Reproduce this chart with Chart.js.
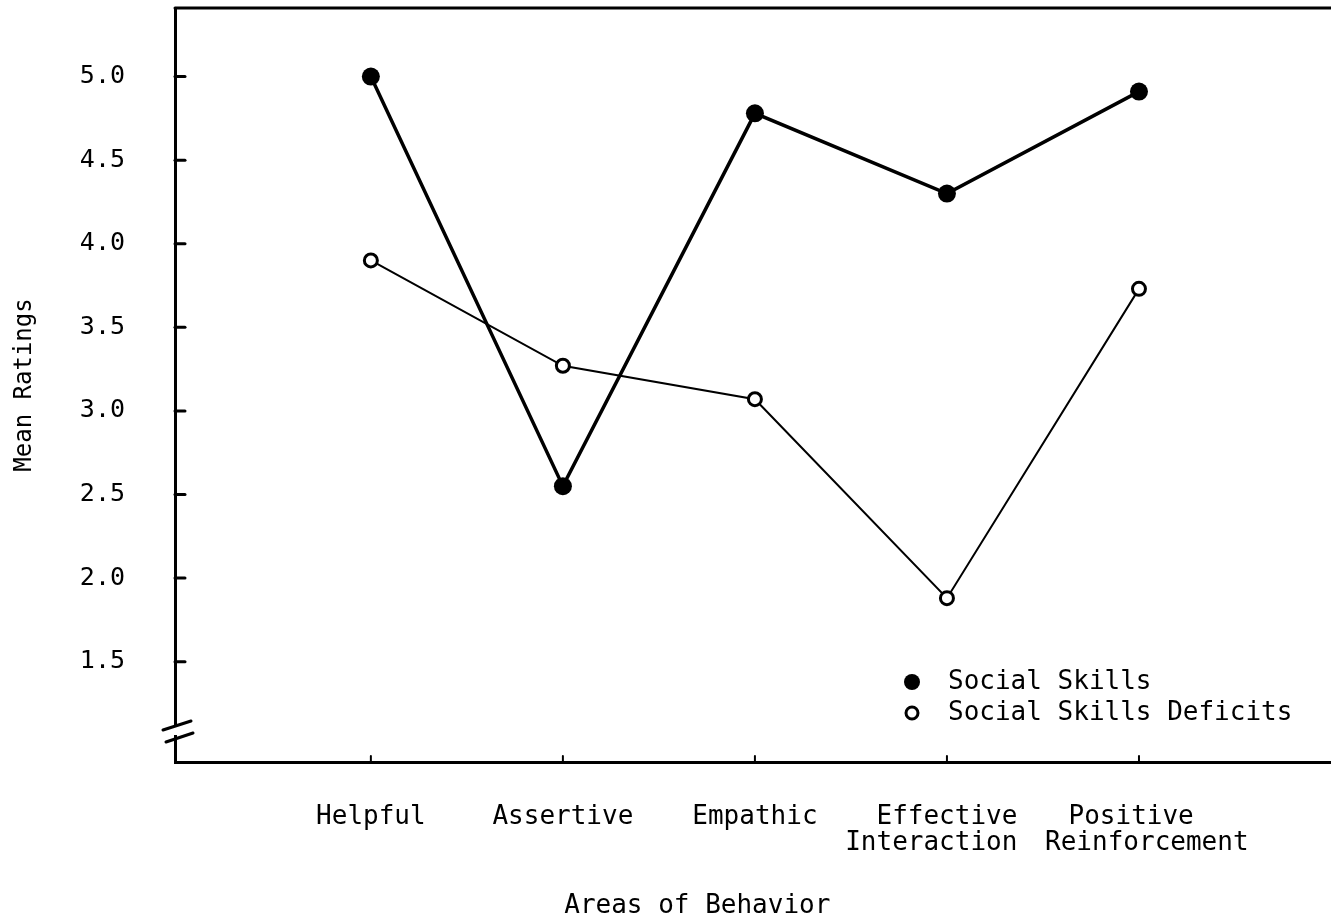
<!DOCTYPE html>
<html>
<head>
<meta charset="utf-8">
<script src="https://cdn.jsdelivr.net/npm/chart.js@4.4.1/dist/chart.umd.min.js"></script>
<style>
body { margin: 0; background: #fff; }
</style>
</head>
<body>
<canvas id="grafico" width="1331" height="923"></canvas>
<script>
// valores
var areas = [["Helpful"], ["Assertive"], ["Empathic"], ["Effective", "Interaction  "], ["Positive ", " Reinforcement"]];
var socialSkills = [5.0, 2.55, 4.78, 4.30, 4.91];
var skillsDeficits = [3.90, 3.27, 3.07, 1.88, 3.73];
var yTicks = [1.5, 2.0, 2.5, 3.0, 3.5, 4.0, 4.5, 5.0];
var seriesNames = ["Social Skills", "Social Skills Deficits"];
var xTitle = "Areas of Behavior";
var yTitle = "Mean Ratings";

var mono = "'DejaVu Sans Mono', monospace";

function puntos(valores) {
	return valores.map(function (v, i) { return { x: i, y: v }; });
}

// marcas, borde superior, corte del eje, leyenda y titulo x
var extras = {
	id: 'extras',
	afterDraw: function (chart) {
		var ctx = chart.ctx;
		var a = chart.chartArea;
		var xs = chart.scales.x;
		var ys = chart.scales.y;
		ctx.save();
		ctx.strokeStyle = '#000';
		ctx.fillStyle = '#000';
		ctx.lineCap = 'round';

		// borde superior
		ctx.lineWidth = 3;
		ctx.beginPath();
		ctx.moveTo(a.left, a.top);
		ctx.lineTo(a.right, a.top);
		ctx.stroke();

		// marcas hacia adentro
		ctx.lineWidth = 3;
		yTicks.forEach(function (t) {
			var py = ys.getPixelForValue(t);
			ctx.beginPath();
			ctx.moveTo(a.left, py);
			ctx.lineTo(a.left + 10, py);
			ctx.stroke();
		});
		ctx.lineWidth = 2;
		areas.forEach(function (n, i) {
			var px = xs.getPixelForValue(i);
			ctx.beginPath();
			ctx.moveTo(px, a.bottom);
			ctx.lineTo(px, a.bottom - 6);
			ctx.stroke();
		});

		// corte del eje y
		ctx.fillStyle = '#fff';
		ctx.fillRect(a.left - 4, a.bottom - 36, 8, 9);
		ctx.lineWidth = 3;
		ctx.beginPath();
		ctx.moveTo(a.left - 12, a.bottom - 32);
		ctx.lineTo(a.left + 16, a.bottom - 41);
		ctx.moveTo(a.left - 9, a.bottom - 20);
		ctx.lineTo(a.left + 18, a.bottom - 29);
		ctx.stroke();

		// leyenda
		var lx = a.right - 419;
		var ly = a.bottom - 80;
		ctx.fillStyle = '#000';
		ctx.beginPath();
		ctx.arc(lx, ly, 8, 0, 2 * Math.PI);
		ctx.fill();
		ctx.fillStyle = '#fff';
		ctx.lineWidth = 3;
		ctx.beginPath();
		ctx.arc(lx, ly + 31, 6, 0, 2 * Math.PI);
		ctx.fill();
		ctx.stroke();
		ctx.fillStyle = '#000';
		ctx.font = '26px ' + mono;
		ctx.textAlign = 'left';
		ctx.textBaseline = 'middle';
		ctx.fillText(seriesNames[0], lx + 36, ly);
		ctx.fillText(seriesNames[1], lx + 36, ly + 31);

		// titulo eje x
		ctx.textAlign = 'center';
		ctx.fillText(xTitle, xs.getPixelForValue(1.7), chart.height - 17);
		ctx.restore();
	}
};

var ctx = document.getElementById("grafico").getContext('2d');
var chart = new Chart(ctx, {
	type: 'line',
	data: {
		datasets: [{
			label: seriesNames[1],
			data: puntos(skillsDeficits),
			borderColor: '#000',
			borderWidth: 2,
			pointRadius: 6.5,
			pointBorderWidth: 3,
			pointBackgroundColor: '#fff',
			pointBorderColor: '#000',
			fill: false,
			tension: 0
		}, {
			label: seriesNames[0],
			data: puntos(socialSkills),
			borderColor: '#000',
			borderWidth: 3.5,
			pointRadius: 9,
			pointBorderWidth: 0,
			pointBackgroundColor: '#000',
			fill: false,
			tension: 0
		}]
	},
	options: {
		responsive: false,
		animation: false,
		devicePixelRatio: 1,
		layout: { autoPadding: false, padding: { top: 8, left: 0, right: 0, bottom: 0 } },
		plugins: {
			legend: { display: false },
			tooltip: { enabled: false }
		},
		scales: {
			x: {
				type: 'linear',
				min: -1.02,
				max: 5,
				grid: { display: false, drawTicks: false },
				border: { display: true, width: 3, color: '#000' },
				afterBuildTicks: function (s) {
					s.ticks = areas.map(function (n, i) { return { value: i }; });
				},
				afterFit: function (s) { s.height = 161; },
				ticks: {
					padding: 42,
					maxRotation: 0,
					autoSkip: false,
					color: '#000',
					font: { family: mono, size: 26, lineHeight: 1.0 },
					callback: function (v) { return areas[v]; }
				}
			},
			y: {
				min: 0.9,
				max: 5.41,
				grid: { display: false, drawTicks: false },
				border: { display: true, width: 3, color: '#000' },
				afterBuildTicks: function (s) {
					s.ticks = yTicks.map(function (t) { return { value: t }; });
				},
				afterFit: function (s) {
					s.width = 175;
					s.paddingTop = 0;
					s.paddingBottom = 0;
				},
				ticks: {
					padding: 50,
					color: '#000',
					font: { family: mono, size: 25 },
					callback: function (v) { return v.toFixed(1); }
				},
				title: {
					display: true,
					text: yTitle,
					color: '#000',
					font: { family: mono, size: 24 },
					padding: { top: 10, bottom: 0 }
				}
			}
		}
	},
	plugins: [extras]
});
</script>
</body>
</html>
